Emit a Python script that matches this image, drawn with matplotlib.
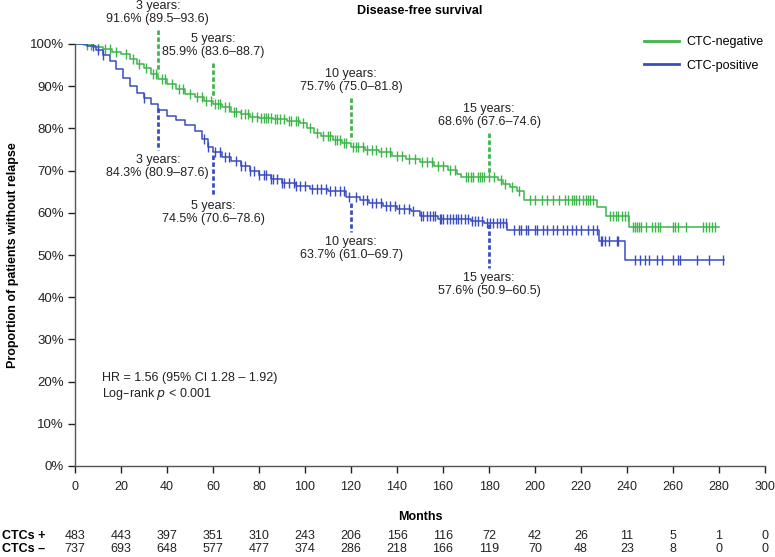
import numpy as np
import matplotlib
matplotlib.use("Agg")
import matplotlib.pyplot as plt
import matplotlib.transforms as mtransforms

plt.rcParams['font.family'] = ['Liberation Sans', 'DejaVu Sans']

# ---------------- data ----------------
neg_times = [0, 4, 8, 12, 16, 20, 24, 27, 30, 33, 36, 40, 44, 48, 52, 56, 60, 64, 68, 72, 76, 80,
             86, 92, 98, 101, 104, 107, 112, 116, 120, 126, 132, 138, 144, 150, 156, 162, 166, 168,
             184, 186, 189, 192, 195, 227, 231, 241]
neg_surv = [100, 99.7, 99.3, 98.8, 98.2, 97.6, 96.5, 95.3, 94.3, 93.0, 91.6, 90.6, 89.3, 88.2, 87.4,
            86.6, 85.9, 85.0, 84.0, 83.3, 82.8, 82.5, 82.2, 81.8, 81.3, 80.2, 79.0, 78.2, 77.3, 76.5,
            75.7, 75.0, 74.3, 73.5, 72.8, 72.0, 71.2, 70.2, 69.2, 68.6, 67.8, 66.8, 66.0, 65.2, 63.0,
            61.4, 59.3, 56.7]
neg_end = 280
neg_censor = [5, 7, 10, 13, 15, 18, 22, 25, 28, 31, 34, 35, 38, 39, 42, 45, 47, 50, 53, 55, 57, 59,
              61, 62, 63, 65, 67, 69, 70, 72, 74, 75, 77, 79, 81, 82, 83, 84, 85, 87, 88, 89, 91, 93,
              94, 96, 97, 99, 102, 105, 108, 110, 111, 113, 114, 115, 117, 118, 121, 122, 123, 125,
              127, 129, 131, 133, 135, 137, 140, 142, 145, 148, 151, 153, 155, 158, 160, 163, 165,
              170, 171, 172, 173, 175, 176, 177, 178, 180, 182, 185, 187, 190, 193,
              198, 200, 203, 205, 208, 210.4, 213, 214.3, 216, 217, 218, 219, 221, 222, 223, 224, 225,
              232.6, 234, 235, 236, 238, 239, 240.4,
              242.6, 243.5, 244.3, 245.2, 246.3, 248.3, 251, 252, 253.5, 254.3, 260, 261, 262, 265.6,
              273, 274.3, 275.6, 277, 278.3]

pos_times = [0, 5, 9, 12, 15, 18, 21, 24, 27, 30, 33, 36, 40, 44, 48, 52, 55, 58, 60, 64, 68, 72,
             76, 80, 85, 90, 96, 102, 110, 118, 124, 128, 134, 140, 146, 150, 158, 172, 178, 188,
             228, 239]
pos_surv = [100, 99.5, 98.6, 97.5, 96.0, 94.0, 92.0, 90.0, 88.3, 87.2, 85.8, 84.3, 83.0, 82.0, 80.8,
            79.5, 77.5, 75.5, 74.5, 73.2, 72.3, 71.2, 70.0, 69.0, 68.0, 67.0, 66.3, 65.6, 65.2, 63.7,
            63.0, 62.3, 61.5, 61.0, 60.5, 59.3, 58.6, 58.0, 57.6, 55.9, 53.2, 48.7]
pos_end = 282
pos_censor = [8, 10, 12, 30, 56, 58, 61, 63, 65, 67, 70, 72, 74, 76, 78, 80, 82, 83, 85, 86, 88, 90,
              91, 93, 95, 96, 98, 100, 103, 105, 107, 109, 111, 113, 115, 117, 119, 122, 125, 127,
              129, 131, 133, 135, 137, 139, 141, 143, 145, 147,
              150.5, 151.3, 153, 154.3, 155.7, 156.5, 158.5, 159, 160, 161.7, 163, 164.3, 165.7, 166.5,
              168, 169.6, 171, 172.6, 174, 175.2, 177, 179, 180.4, 181.7, 183.5, 184.8, 186, 187.5,
              191, 193, 194, 196, 197, 200, 201, 203.5, 205, 208, 209.6, 212, 214, 216, 218, 220, 223,
              225, 227, 228.5, 229, 230.5, 232, 235.6, 236,
              243.5, 245.6, 247.8, 249.6, 253, 255, 260, 262, 263, 270.4, 275.6, 281.7]

milestones = [36, 60, 120, 180]
neg_labels = ["3 years:\n91.6% (89.5\u201393.6)", "5 years:\n85.9% (83.6\u201388.7)",
              "10 years:\n75.7% (75.0\u201381.8)", "15 years:\n68.6% (67.6\u201374.6)"]
pos_labels = ["3 years:\n84.3% (80.9\u201387.6)", "5 years:\n74.5% (70.6\u201378.6)",
              "10 years:\n63.7% (61.0\u201369.7)", "15 years:\n57.6% (50.9\u201360.5)"]
# dashed segment ranges (percent) for annotations
neg_dash = [(103.3, 93.4), (95.5, 87.2), (87.2, 77.3), (78.9, 69.0)]
pos_dash = [(84.8, 74.9), (73.7, 64.0), (62.3, 55.5), (57.3, 46.9)]

risk_times = list(range(0, 301, 20))
risk_pos = [483, 443, 397, 351, 310, 243, 206, 156, 116, 72, 42, 26, 11, 5, 1, 0]
risk_neg = [737, 693, 648, 577, 477, 374, 286, 218, 166, 119, 70, 48, 23, 8, 0, 0]

GREEN = '#3DB54A'
BLUE = '#3A4DC0'
TXT = '#222222'

# ---------------- figure ----------------
fig = plt.figure(figsize=(7.75, 5.57), dpi=100)
ax = fig.add_axes([75 / 775, 1 - 466 / 557, 690 / 775, 422 / 557])


def step_eval(times, surv, t):
    idx = np.searchsorted(times, t, side='right') - 1
    return np.asarray(surv)[idx]


def draw_curve(times, surv, end, censor, color, label):
    xs = list(times) + [end]
    ys = list(surv) + [surv[-1]]
    ax.step(xs, ys, where='post', color=color, lw=1.1, label=label, zorder=3)
    c = np.asarray(censor)
    ax.plot(c, step_eval(times, surv, c), ls='none', marker='|', ms=7, mew=1.0,
            color=color, zorder=3)


draw_curve(neg_times, neg_surv, neg_end, neg_censor, GREEN, 'CTC-negative')
draw_curve(pos_times, pos_surv, pos_end, pos_censor, BLUE, 'CTC-positive')

# milestone annotations
for t, lab, (a, b) in zip(milestones, neg_labels, neg_dash):
    ax.plot([t, t], [a, b], ls=(0, (1.6, 0.9)), color=GREEN, lw=2.0, clip_on=False, zorder=4)
    ax.text(t, a + 1.2, lab, ha='center', va='bottom', fontsize=9, color=TXT,
            linespacing=1.1)
for t, lab, (a, b) in zip(milestones, pos_labels, pos_dash):
    ax.plot([t, t], [a, b], ls=(0, (1.6, 0.9)), color=BLUE, lw=2.0, clip_on=False, zorder=4)
    ax.text(t, b - 1.0, lab, ha='center', va='top', fontsize=9, color=TXT,
            linespacing=1.1)

ax.set_xlim(0, 300)
ax.set_ylim(0, 100)
ax.set_xticks(risk_times)
ax.set_xticklabels([str(t) for t in risk_times], fontsize=9)
ax.set_yticks(np.arange(0, 101, 10))
ax.set_yticklabels([f"{v}%" for v in range(0, 101, 10)], fontsize=9.5)
for s in ['top', 'right']:
    ax.spines[s].set_visible(False)
for s in ['left', 'bottom']:
    ax.spines[s].set_color('#555555')
    ax.spines[s].set_linewidth(1.0)
ax.tick_params(direction='out', length=5, width=1, color=TXT, labelcolor=TXT)
ax.tick_params(axis='y', pad=3)
ax.tick_params(axis='x', pad=6)

ax.set_ylabel('Proportion of patients without relapse', fontsize=9, fontweight='bold',
              labelpad=8)
ax.set_xlabel('Months', fontsize=9, fontweight='bold', labelpad=13)
fig.text(420 / 775, 1 - 11 / 557, 'Disease-free survival', ha='center', va='center',
         fontsize=9, fontweight='bold')

ax.text(11.7, 20.8, 'HR = 1.56 (95% CI 1.28 \u2013 1.92)', fontsize=9, color=TXT,
        va='center')
ax.text(11.7, 17.0, 'Log\u2013rank $\\it{p}$ < 0.001', fontsize=9, color=TXT, va='center')

leg = ax.legend(loc='upper left', bbox_to_anchor=(0.808, 1.045), frameon=False, fontsize=9,
                handlelength=2.8, labelspacing=0.9, handletextpad=0.6)
for line in leg.get_lines():
    line.set_linewidth(2.0)

# risk table
trans = mtransforms.blended_transform_factory(ax.transData, fig.transFigure)
y_pos = 1 - 536 / 557
y_neg = 1 - 549 / 557
fig.text(2 / 775, y_pos, 'CTCs +', fontsize=9, fontweight='bold', va='center')
fig.text(2 / 775, y_neg, 'CTCs \u2013', fontsize=9, fontweight='bold', va='center')
for t, a, b in zip(risk_times, risk_pos, risk_neg):
    ax.text(t, y_pos, str(a), transform=trans, ha='center', va='center',
            fontsize=9, color=TXT)
    ax.text(t, y_neg, str(b), transform=trans, ha='center', va='center',
            fontsize=9, color=TXT)

fig.savefig('out.png', dpi=100)
